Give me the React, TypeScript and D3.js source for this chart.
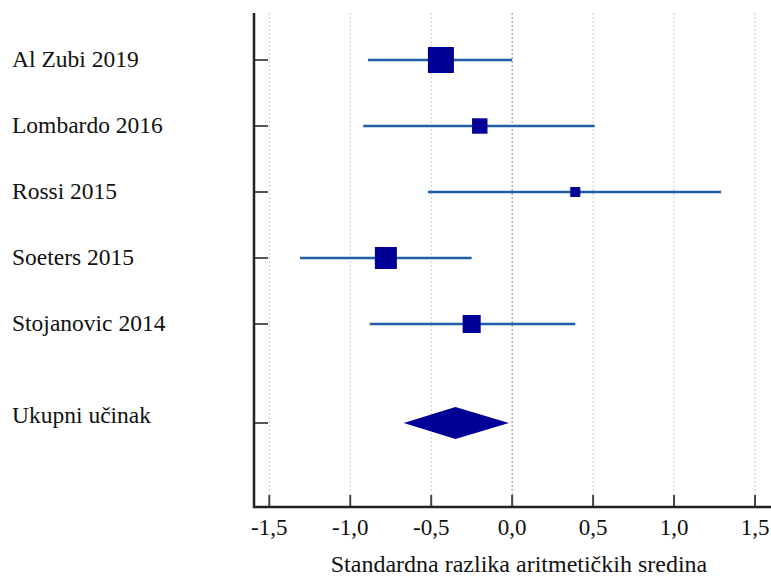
import React from "react";
import * as d3 from "d3";

const studies = ["Al Zubi 2019", "Lombardo 2016", "Rossi 2015", "Soeters 2015", "Stojanovic 2014"];
const estimates = [-0.44, -0.2, 0.39, -0.78, -0.25];
const lower = [-0.89, -0.92, -0.52, -1.31, -0.88];
const upper = [0.0, 0.51, 1.29, -0.25, 0.39];
const weights = [37, 13, 5.5, 26.5, 17.8];
const summaryLabel = "Ukupni učinak";
const summary = { est: -0.35, lo: -0.67, hi: -0.02 };
const xTicks = [-1.5, -1.0, -0.5, 0.0, 0.5, 1.0, 1.5];
const xTitle = "Standardna razlika aritmetičkih sredina";

const W = 771;
const H = 577;

export default function App() {
  const x = d3.scaleLinear().domain([-1.5, 1.5]).range([269.3, 755]);
  const y = d3.scaleLinear().domain([0, 4]).range([60, 324]);
  const size = d3.scaleSqrt().domain([0, 37]).range([0, 26]);
  const axisLeft = 254;
  const axisTop = 13;
  const axisBottom = 507;
  const ySum = y(5.5);
  const fmt = (v: number) => v.toFixed(1).replace(".", ",");
  const font = "Times New Roman, Liberation Serif, DejaVu Serif, serif";
  const rowsY = [...studies.map((_, i) => y(i)), ySum];

  const diamond = d3.line<[number, number]>()([
    [x(summary.lo), ySum],
    [x(summary.est), ySum - 16],
    [x(summary.hi), ySum],
    [x(summary.est), ySum + 16],
  ]) + "Z";

  return (
    <svg width={W} height={H} style={{ position: "absolute", left: 0, top: 0, background: "#fff" }}>
      {xTicks.map((t) => (
        <line
          key={"g" + t}
          x1={x(t)}
          x2={x(t)}
          y1={axisTop}
          y2={axisBottom}
          stroke={t === 0 ? "#7a8699" : "#c8c8c8"}
          strokeWidth={1}
          strokeDasharray="2,2"
        />
      ))}
      {studies.map((s, i) => (
        <g key={s}>
          <line x1={x(lower[i])} x2={x(upper[i])} y1={y(i)} y2={y(i)} stroke="#1f5ea8" strokeWidth={2.5} />
          <rect
            x={x(estimates[i]) - size(weights[i]) / 2}
            y={y(i) - size(weights[i]) / 2}
            width={size(weights[i])}
            height={size(weights[i])}
            fill="#000096"
          />
          <text x={12} y={y(i) + 7} style={{ fontFamily: font, fontSize: 23.5 }} fill="#111">
            {s}
          </text>
        </g>
      ))}
      <path d={diamond} fill="#000096" />
      <text x={12} y={ySum} style={{ fontFamily: font, fontSize: 23.5 }} fill="#111">
        {summaryLabel}
      </text>
      {rowsY.map((ry, i) => (
        <line key={"lt" + i} x1={axisLeft} x2={268} y1={ry} y2={ry} stroke="#555" strokeWidth={2} />
      ))}
      {xTicks.map((t) => (
        <g key={"t" + t}>
          <line x1={x(t)} x2={x(t)} y1={axisBottom} y2={axisBottom - 12} stroke="#444" strokeWidth={2} />
          <text x={x(t)} y={535} textAnchor="middle" style={{ fontFamily: font, fontSize: 23 }} fill="#111">
            {t < 0 ? "-" + fmt(-t) : fmt(t)}
          </text>
        </g>
      ))}
      <line x1={axisLeft} x2={axisLeft} y1={axisTop} y2={axisBottom + 1} stroke="#222" strokeWidth={2.5} />
      <line x1={axisLeft - 1} x2={W} y1={axisBottom} y2={axisBottom} stroke="#222" strokeWidth={2.5} />
      <text x={519} y={572} textAnchor="middle" style={{ fontFamily: font, fontSize: 24 }} fill="#111">
        {xTitle}
      </text>
    </svg>
  );
}
